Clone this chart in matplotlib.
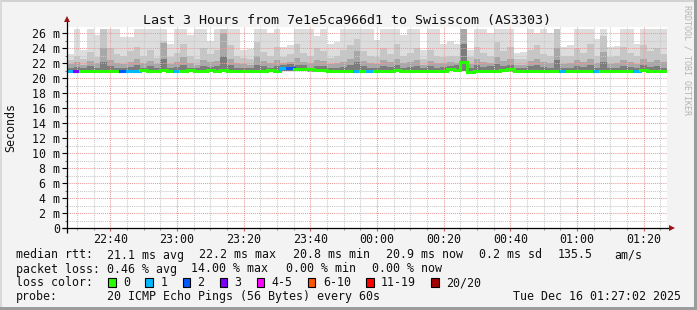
import matplotlib
matplotlib.use("Agg")
import matplotlib.pyplot as plt
from matplotlib.patches import Rectangle
from matplotlib.lines import Line2D
import numpy as np

# ---------------- data (values in ms) ----------------
start_minute = 22 * 60 + 27          # 22:27, first column
step_minutes = 2                     # width of one column

smoke_top = [23.2, 26.6, 23.7, 26.6, 25.7, 26.6, 26.6, 26.6, 25.5, 25.5,
             26.6, 26.6, 26.6, 26.6, 26.6, 24.6, 26.6, 26.6, 25.8, 26.6,
             26.6, 24.9, 26.6, 26.6, 26.6, 26.6, 23.7, 23.9, 26.6, 26.6,
             26.0, 26.6, 24.2, 24.4, 26.6, 26.6, 26.6, 25.6, 26.6, 24.6,
             24.8, 26.6, 26.6, 26.6, 26.6, 26.6, 25.1, 26.6, 26.6, 26.6,
             25.8, 26.6, 26.6, 23.7, 26.6, 26.6, 24.6, 24.9, 24.6, 26.6,
             23.7, 26.6, 26.6, 26.0, 26.6, 26.6, 26.6, 23.3, 23.5, 26.6,
             26.0, 26.6, 26.0, 26.6, 24.2, 24.4, 26.6, 26.6, 26.6, 25.2,
             26.6, 24.2, 24.3, 26.6, 26.6, 24.6, 26.6, 26.6, 26.6, 26.6]
smoke_u1 = [22.4, 23.0, 22.6, 23.5, 22.8, 26.6, 24.0, 23.2, 22.9, 23.6,
            24.2, 23.0, 23.8, 22.7, 25.0, 22.8, 23.4, 24.6, 23.0, 22.6,
            24.0, 23.2, 23.8, 26.6, 24.4, 23.0, 22.7, 22.6, 24.8, 23.5,
            23.0, 24.2, 22.8, 23.2, 24.6, 23.4, 22.9, 24.0, 23.6, 22.7,
            22.9, 23.8, 24.4, 25.2, 23.6, 23.0, 22.8, 24.0, 23.2, 24.6,
            22.9, 23.4, 24.0, 22.6, 23.8, 23.0, 22.8, 23.0, 22.9, 26.6,
            22.8, 24.2, 23.4, 23.0, 24.8, 23.6, 24.2, 22.6, 22.5, 23.8,
            24.4, 23.2, 23.0, 26.6, 22.9, 23.0, 24.0, 23.4, 24.6, 23.0,
            25.6, 22.8, 23.0, 24.2, 23.4, 22.9, 24.4, 23.6, 24.0, 23.2]
smoke_u2 = [21.9, 22.1, 21.8, 22.3, 22.0, 24.0, 22.4, 22.0, 21.9, 22.2,
            22.6, 22.0, 22.3, 21.9, 24.7, 21.9, 22.2, 22.8, 22.0, 21.8,
            22.4, 22.1, 22.3, 26.0, 22.6, 22.0, 21.9, 21.8, 22.9, 22.3,
            22.0, 22.4, 22.0, 22.2, 22.7, 22.2, 22.0, 22.4, 22.3, 21.9,
            22.0, 22.2, 22.5, 23.6, 22.3, 22.0, 21.9, 22.4, 22.1, 22.6,
            22.0, 22.2, 22.4, 21.8, 22.3, 22.0, 22.0, 22.1, 22.0, 26.6,
            21.9, 22.5, 22.2, 22.0, 22.8, 22.3, 22.5, 21.8, 21.8, 22.3,
            22.6, 22.1, 22.0, 24.0, 21.9, 22.0, 22.4, 22.2, 22.6, 22.0,
            23.5, 21.9, 22.0, 22.4, 22.2, 21.9, 22.5, 22.2, 22.4, 22.1]
smoke_u3 = [21.4, 21.5, 21.3, 21.6, 21.4, 22.2, 21.6, 21.4, 21.4, 21.5,
            21.7, 21.4, 21.6, 21.3, 22.6, 21.4, 21.5, 21.8, 21.4, 21.3,
            21.6, 21.5, 21.6, 23.0, 21.7, 21.4, 21.4, 21.3, 21.8, 21.6,
            21.4, 21.6, 21.8, 21.9, 21.8, 21.7, 21.4, 21.6, 21.6, 21.4,
            21.4, 21.5, 21.7, 22.2, 21.6, 21.4, 21.3, 21.6, 21.5, 21.7,
            21.4, 21.5, 21.6, 21.3, 21.6, 21.4, 21.5, 21.6, 21.7, 24.5,
            21.4, 21.7, 21.5, 21.6, 21.9, 21.6, 21.7, 21.3, 21.3, 21.6,
            21.8, 21.5, 21.4, 22.4, 21.3, 21.4, 21.6, 21.5, 21.7, 21.4,
            22.2, 21.3, 21.4, 21.6, 21.5, 21.3, 21.7, 21.5, 21.6, 21.4]
smoke_lo = [20.8, 20.7, 20.7, 20.8, 20.8, 20.8, 20.9, 20.8, 20.8, 20.7,
            20.8, 20.8, 20.8, 20.9, 20.8, 20.7, 20.8, 20.8, 20.8, 20.8,
            20.9, 20.8, 20.8, 20.8, 20.8, 20.9, 20.8, 20.8, 20.8, 20.8,
            20.9, 20.9, 20.9, 21.0, 20.9, 20.9, 20.8, 20.8, 20.8, 20.8,
            20.8, 20.8, 20.9, 20.8, 20.8, 20.8, 20.8, 20.9, 20.8, 20.8,
            20.8, 20.8, 20.9, 20.8, 20.8, 20.8, 20.9, 20.9, 20.9, 20.9,
            20.7, 20.8, 20.8, 20.9, 20.9, 20.8, 20.8, 20.8, 20.8, 20.8,
            20.8, 20.8, 20.8, 20.8, 20.7, 20.8, 20.8, 20.8, 20.8, 20.8,
            20.8, 20.7, 20.8, 20.8, 20.8, 20.8, 20.8, 20.8, 20.8, 20.8]
median = [21.0, 20.9, 20.9, 21.0, 21.0, 20.9, 21.0, 21.0, 21.0, 21.0,
          21.0, 21.1, 21.0, 21.0, 21.1, 21.0, 20.9, 21.0, 21.1, 21.0,
          21.0, 21.1, 21.0, 21.1, 20.9, 21.0, 20.9, 21.0, 21.0, 21.0,
          21.1, 21.0, 21.4, 21.4, 21.2, 21.2, 21.2, 21.1, 21.1, 20.9,
          21.0, 20.9, 21.0, 21.0, 21.0, 21.0, 21.0, 21.0, 21.0, 21.1,
          21.0, 20.9, 21.0, 21.0, 21.0, 20.9, 21.0, 21.2, 21.1, 22.2,
          20.8, 21.0, 21.0, 21.0, 21.0, 21.1, 21.2, 21.0, 21.0, 21.0,
          21.0, 21.0, 21.0, 20.9, 20.9, 20.9, 21.0, 21.0, 21.0, 20.9,
          21.0, 21.0, 21.0, 20.9, 21.0, 21.0, 21.1, 21.0, 21.0, 21.0]
loss = [1, 3, 0, 0, 0, 0, 0, 0, 2, 1,
        1, 0, 0, 0, 0, 0, 1, 0, 0, 0,
        0, 0, 0, 0, 0, 0, 0, 0, 0, 0,
        0, 0, 1, 2, 0, 0, 0, 0, 0, 0,
        0, 0, 0, 1, 0, 1, 0, 0, 0, 0,
        0, 0, 0, 0, 0, 0, 0, 0, 0, 0,
        0, 0, 0, 0, 0, 0, 0, 0, 0, 0,
        0, 0, 0, 0, 1, 0, 0, 0, 0, 1,
        0, 0, 0, 0, 0, 1, 0, 0, 0, 0]

loss_labels = ["0", "1", "2", "3", "4-5", "6-10", "11-19", "20/20"]
loss_colors = ["#26ff00", "#00b8ff", "#0059ff", "#7e00ff", "#ff00ff",
               "#ff5500", "#ff0000", "#a10000"]
loss_upper = [0, 1, 2, 3, 5, 10, 19, 20]

xtick_minutes = [22 * 60 + 40, 23 * 60, 23 * 60 + 20, 23 * 60 + 40, 24 * 60,
                 24 * 60 + 20, 24 * 60 + 40, 25 * 60, 25 * 60 + 20]
xtick_labels = ["22:40", "23:00", "23:20", "23:40", "00:00", "00:20",
                "00:40", "01:00", "01:20"]
ytick_values = list(range(0, 27, 2))
ytick_labels = ["0"] + [f"{v} m" for v in ytick_values[1:]]

title = "Last 3 Hours from 7e1e5ca966d1 to Swisscom (AS3303)"
row_rtt = [("median rtt:", 16), ("21.1 ms avg", 107), ("22.2 ms max", 199),
           ("20.8 ms min", 293), ("20.9 ms now", 386), ("0.2 ms sd", 479),
           ("135.5", 558), ("am/s", 614)]
row_loss = [("packet loss:", 16), ("0.46 % avg", 107), ("14.00 % max", 191),
            ("0.00 % min", 286), ("0.00 % now", 372)]
probe_text = "20 ICMP Echo Pings (56 Bytes) every 60s"
date_text = "Tue Dec 16 01:27:02 2025"

# ---------------- figure ----------------
W, H = 697, 310
MONO = "DejaVu Sans Mono"
plt.rcParams["font.family"] = [MONO, "DejaVu Sans"]

def fx(px):
    return px / W

def fy(py):
    return 1 - py / H

fig = plt.figure(figsize=(W / 100, H / 100), dpi=100, facecolor="#f3f3f3")

# frame of the canvas
fig.add_artist(Rectangle((0, fy(2)), 1, 2 / H, transform=fig.transFigure,
                         color="#d2d2d2", lw=0))
fig.add_artist(Rectangle((0, 0), 2 / W, 1, transform=fig.transFigure,
                         color="#d9d9d9", lw=0))
fig.add_artist(Rectangle((0, 0), 1, 3 / H, transform=fig.transFigure,
                         color="#9c9c9c", lw=0))
fig.add_artist(Rectangle((fx(W - 3), 0), 3 / W, 1, transform=fig.transFigure,
                         color="#9c9c9c", lw=0))

px_left, px_right, px_bottom, px_top = 67, 667, 228, 27
ax = fig.add_axes([fx(px_left), fy(px_bottom), (px_right - px_left) / W,
                   (px_bottom - px_top) / H])
ax.set_facecolor("white")
n = len(median)
edges = start_minute + step_minutes * np.arange(n + 1)
ax.set_xlim(edges[0], edges[-1])
ax.set_ylim(0, 26.8)
for s in ax.spines.values():
    s.set_visible(False)

lo = np.array(smoke_lo)
for vals, col in [(smoke_top, "#dddddd"), (smoke_u1, "#c6c6c6"),
                  (smoke_u2, "#a8a8a8"), (smoke_u3, "#7c7c7c")]:
    ax.stairs(vals, edges, baseline=lo, fill=True, color=col, lw=0, zorder=1)

# grid (drawn above smoke like rrdtool)
dots = (0, (1, 1))
for m in range(1, 27, 2):
    ax.axhline(m, color="#c8c8c8", lw=0.75, ls=dots, zorder=2)
for m in range(2, 27, 2):
    ax.axhline(m, color="#eb9a9a", lw=0.75, ls=dots, zorder=2)
minor_x = np.arange(22 * 60 + 30, edges[-1], 5)
for t in minor_x:
    if t not in xtick_minutes:
        ax.axvline(t, color="#c8c8c8", lw=0.75, ls=dots, zorder=2)
for t in xtick_minutes:
    ax.axvline(t, color="#eb9a9a", lw=0.75, ls=dots, zorder=2)

# median line coloured by loss
def loss_color(k):
    for up, c in zip(loss_upper, loss_colors):
        if k <= up:
            return c
    return loss_colors[-1]

cols = [loss_color(k) for k in loss]
med = np.array(median)
ax.hlines(med, edges[:-1], edges[1:], colors=cols, lw=2.2, zorder=3,
          capstyle="projecting")
ax.vlines(edges[1:-1], med[:-1], med[1:], colors=cols[1:], lw=2.2, zorder=3)

# axes lines and arrows (pixel based offsets)
mpp_x = (edges[-1] - edges[0]) / (px_right - px_left)
mpp_y = 26.8 / (px_bottom - px_top)
ax.plot([edges[0] - 5 * mpp_x, edges[0] + 604 * mpp_x], [0, 0], color="black",
        lw=0.9, clip_on=False, zorder=4, solid_capstyle="butt")
ax.plot([edges[0], edges[0]], [-5 * mpp_y, 26.8 + 7 * mpp_y], color="black",
        lw=0.9, clip_on=False, zorder=4, solid_capstyle="butt")
ax.plot([edges[0] + 605 * mpp_x], [0], marker=">", ms=5, color="#9a1414",
        clip_on=False, zorder=5, mew=0)
ax.plot([edges[0]], [26.8 + 8 * mpp_y], marker="^", ms=5, color="#9a1414",
        clip_on=False, zorder=5, mew=0)

ax.set_xticks(xtick_minutes)
ax.set_xticklabels(xtick_labels)
ax.set_xticks(minor_x, minor=True)
ax.set_yticks(ytick_values)
ax.set_yticklabels(ytick_labels)
ax.set_yticks(range(1, 27, 2), minor=True)
ax.tick_params(axis="x", which="major", length=2, pad=1.5, color="#d06060",
               labelsize=8.4, labelcolor="#111111", width=0.8)
ax.tick_params(axis="x", which="minor", length=1.5, color="#9a9a9a", width=0.8)
ax.tick_params(axis="y", which="major", length=3.6, pad=1.5, color="black",
               labelsize=8.4, labelcolor="#111111", width=0.8)
ax.tick_params(axis="y", which="minor", length=1.5, color="#777777", width=0.8)
for lab in ax.get_xticklabels() + ax.get_yticklabels():
    lab.set_family(MONO)

# titles / labels
fig.text(fx(347), fy(23.7), title, ha="center", va="baseline", fontsize=9.6,
         family=MONO, color="#111111")
fig.text(fx(11), fy(127.5), "Seconds", rotation=90, ha="center", va="center",
         fontsize=8.4, family=MONO, color="#111111")
fig.text(fx(687.5), fy(60), "RRDTOOL / TOBI OETIKER", rotation=270,
         ha="center", va="center", fontsize=6.0, family=MONO, color="#b4b4b4")

# legend rows
base = [258.5, 272.5, 286.5, 300.3]
for txt, x in row_rtt:
    fig.text(fx(x), fy(base[0]), txt, ha="left", va="baseline", fontsize=8.4,
             family=MONO, color="#111111")
for txt, x in row_loss:
    fig.text(fx(x), fy(base[1]), txt, ha="left", va="baseline", fontsize=8.4,
             family=MONO, color="#111111")
fig.text(fx(16), fy(base[2]), "loss color:", ha="left", va="baseline",
         fontsize=8.4, family=MONO, color="#111111")
sx = 108.3
for lab, col in zip(loss_labels, loss_colors):
    fig.add_artist(Rectangle((fx(sx), fy(base[2])), 7.6 / W, 8.2 / H,
                             transform=fig.transFigure, facecolor=col,
                             edgecolor="black", lw=0.8))
    fig.text(fx(sx + 15), fy(base[2]), lab, ha="left", va="baseline",
             fontsize=8.4, family=MONO, color="#111111")
    sx += 30.1 + 7.0 * len(lab)
fig.text(fx(16), fy(base[3]), "probe:", ha="left", va="baseline", fontsize=8.4,
         family=MONO, color="#111111")
fig.text(fx(107), fy(base[3]), probe_text, ha="left", va="baseline",
         fontsize=8.4, family=MONO, color="#111111")
fig.text(fx(681), fy(base[3]), date_text, ha="right", va="baseline",
         fontsize=8.4, family=MONO, color="#111111")

fig.savefig("out.png", dpi=100, facecolor=fig.get_facecolor())
